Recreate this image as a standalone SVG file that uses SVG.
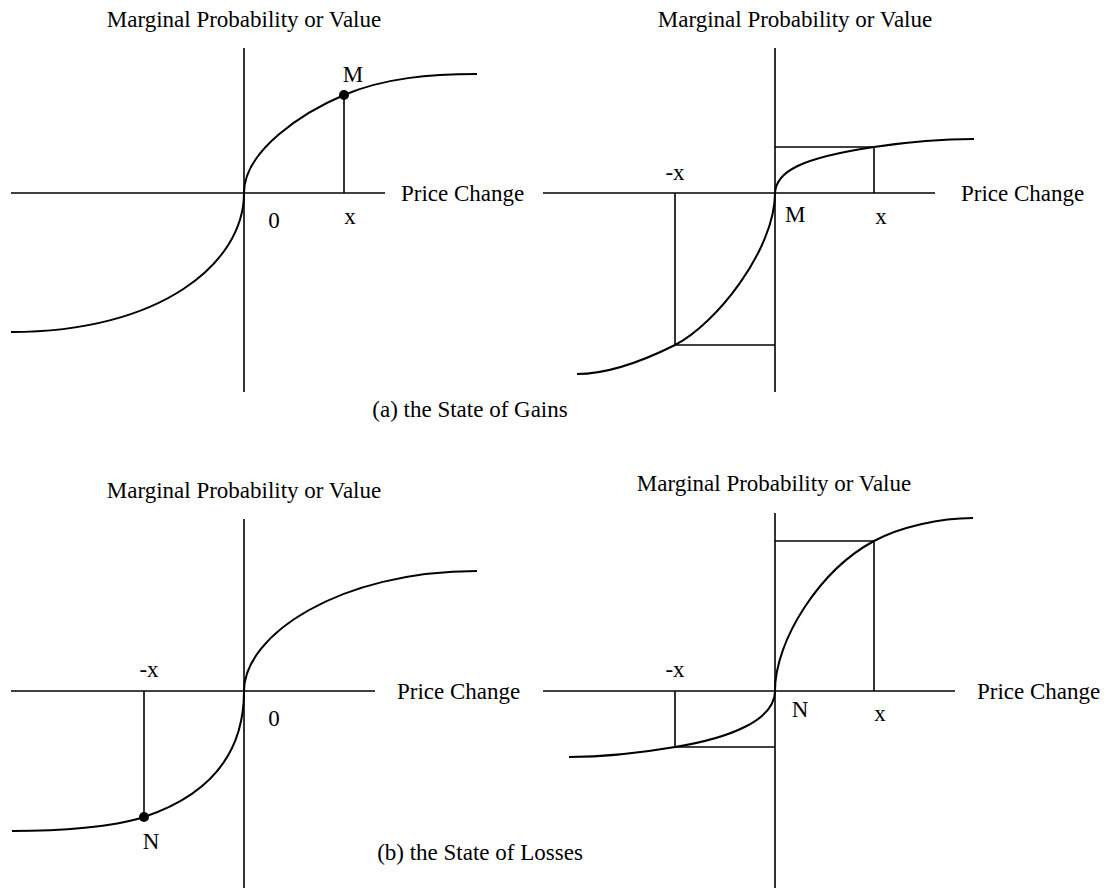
<svg xmlns="http://www.w3.org/2000/svg" width="1108" height="888" viewBox="0 0 1108 888">
<style>
text{font-family:"Liberation Serif","Times New Roman",serif;font-size:23px;fill:#000}
.m{text-anchor:middle}
.ax{stroke:#000;stroke-width:1.6;fill:none}
.cv{stroke:#000;stroke-width:2;fill:none}
</style>
<rect width="1108" height="888" fill="#fff"/>
<g id="panel-a">
  <text class="m" x="244" y="27">Marginal Probability or Value</text>
  <line class="ax" x1="244" y1="48" x2="244" y2="392"/>
  <line class="ax" x1="11" y1="193" x2="385" y2="193"/>
  <line class="ax" x1="344" y1="95" x2="344" y2="193"/>
  <path class="cv" d="M11,332 C161,332 244,263 244,193 C244,150 304,112 344,95 C384,78 430,74 477,74"/>
  <circle cx="344" cy="95" r="5" fill="#000"/>
  <text x="401" y="201">Price Change</text>
  <text class="m" x="274" y="228">0</text>
  <text class="m" x="350" y="224">x</text>
  <text class="m" x="353" y="82">M</text>
</g>
<g id="panel-b">
  <text class="m" x="795" y="27">Marginal Probability or Value</text>
  <line class="ax" x1="775" y1="48" x2="775" y2="392"/>
  <line class="ax" x1="543" y1="193" x2="935" y2="193"/>
  <line class="ax" x1="775" y1="147" x2="874" y2="147"/>
  <line class="ax" x1="874" y1="147" x2="874" y2="193"/>
  <line class="ax" x1="675" y1="193" x2="675" y2="345"/>
  <line class="ax" x1="675" y1="345" x2="775" y2="345"/>
  <path class="cv" d="M577,374 C610,374 645,360 675,345 C715,325 775,250 775,193 C776,172 800,158 874,147 C904,142.5 940,139 974,139"/>
  <text x="961" y="201">Price Change</text>
  <text class="m" x="675" y="180">-x</text>
  <text x="785" y="222">M</text>
  <text class="m" x="881" y="224">x</text>
</g>
<text id="caption-a" class="m" x="470" y="417">(a) the State of Gains</text>
<g id="panel-c">
  <text class="m" x="244" y="498">Marginal Probability or Value</text>
  <line class="ax" x1="244" y1="519" x2="244" y2="888"/>
  <line class="ax" x1="11" y1="691" x2="375" y2="691"/>
  <line class="ax" x1="144" y1="691" x2="144" y2="817"/>
  <path class="cv" d="M12,831 C60,831 114,827 144,817 C195,800 244,765 244,691 C244,635 340,571 477,571"/>
  <circle cx="144" cy="817" r="5" fill="#000"/>
  <text x="397" y="699">Price Change</text>
  <text class="m" x="149" y="677">-x</text>
  <text class="m" x="151" y="849">N</text>
  <text class="m" x="274" y="726">0</text>
</g>
<g id="panel-d">
  <text class="m" x="774" y="491">Marginal Probability or Value</text>
  <line class="ax" x1="775" y1="513" x2="775" y2="888"/>
  <line class="ax" x1="543" y1="691" x2="955" y2="691"/>
  <line class="ax" x1="775" y1="541" x2="874" y2="541"/>
  <line class="ax" x1="874" y1="541" x2="874" y2="691"/>
  <line class="ax" x1="675" y1="691" x2="675" y2="747"/>
  <line class="ax" x1="675" y1="747" x2="775" y2="747"/>
  <path class="cv" d="M569,757 C600,757 640,753 675,747 C730,738 775,720 775,691 C775,640 820,570 874,541 C900,527 940,518 973,518"/>
  <text x="977" y="699">Price Change</text>
  <text class="m" x="675" y="677">-x</text>
  <text class="m" x="800" y="717">N</text>
  <text class="m" x="880" y="721">x</text>
</g>
<text id="caption-b" class="m" x="480" y="860">(b) the State of Losses</text>
</svg>
